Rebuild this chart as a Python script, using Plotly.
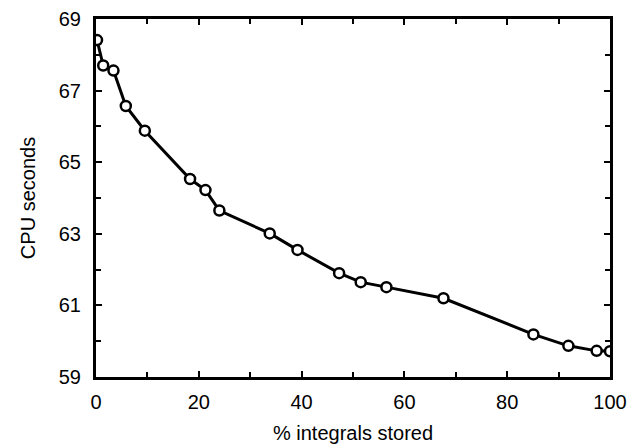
import plotly.graph_objects as go

pct_stored = [0.2, 1.4, 3.4, 5.8, 9.5, 18.3, 21.3, 24.0, 33.8, 39.2, 47.3, 51.5, 56.5, 67.6, 85.1, 91.9, 97.4, 100.0]
cpu_seconds = [68.41, 67.70, 67.56, 66.57, 65.88, 64.53, 64.22, 63.65, 63.01, 62.55, 61.90, 61.65, 61.51, 61.20, 60.19, 59.87, 59.73, 59.72]

x_ticks = [0, 20, 40, 60, 80, 100]
y_ticks = [59, 61, 63, 65, 67, 69]

font_family = "Liberation Sans, Arial, sans-serif"

fig = go.Figure()
fig.add_trace(go.Scatter(
    x=pct_stored, y=cpu_seconds, mode="lines+markers",
    line=dict(color="black", width=3),
    marker=dict(symbol="circle", size=10, color="white",
                line=dict(color="black", width=2.5)),
    showlegend=False,
))

axis_common = dict(
    showgrid=False, zeroline=False, showline=True, linecolor="black", linewidth=3,
    ticks="inside", ticklen=6, tickwidth=1.5, tickcolor="black", mirror="ticks",
    tickfont=dict(family=font_family, size=20, color="black"),
    automargin=False,
)

fig.update_xaxes(
    range=[0, 100], tickvals=x_ticks, ticktext=[str(v) for v in x_ticks],
    minor=dict(dtick=10, ticks="inside", ticklen=5, tickcolor="black", tickwidth=1.5),
    title=dict(text="% integrals stored", font=dict(family=font_family, size=20, color="black"), standoff=14),
    ticklabelstandoff=5,
    **axis_common,
)
fig.update_yaxes(
    range=[59, 69], tickvals=y_ticks, ticktext=[str(v) for v in y_ticks],
    minor=dict(dtick=1, ticks="inside", ticklen=5, tickcolor="black", tickwidth=1.5),
    title=dict(text="CPU seconds", font=dict(family=font_family, size=20, color="black"), standoff=18),
    ticklabelstandoff=8,
    **axis_common,
)

fig.update_layout(
    width=632, height=444,
    margin=dict(l=96, r=22, t=19, b=67),
    paper_bgcolor="white", plot_bgcolor="white",
)

fig.write_html(
    "out.html",
    config={"displayModeBar": False},
    post_script="document.body.style.margin='0';document.body.style.overflow='hidden';",
)
